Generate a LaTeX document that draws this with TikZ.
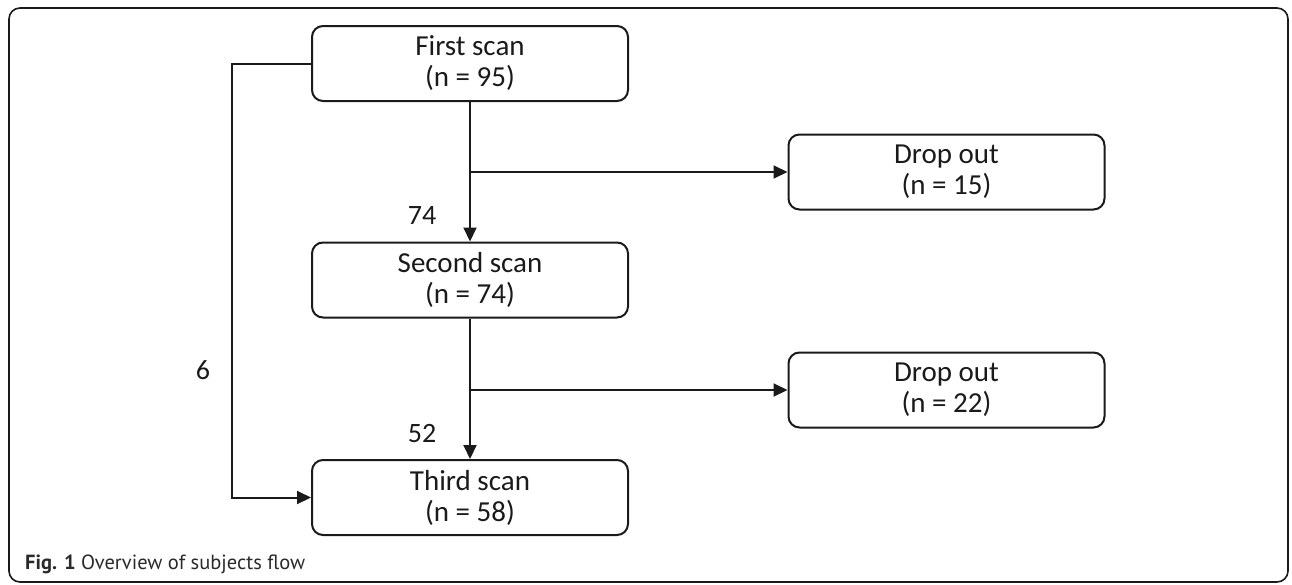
\documentclass[tikz,border=0pt]{standalone}
\usepackage{fontspec}
\setmainfont{Carlito}
\newfontfamily\capfont{PT Sans}
\usetikzlibrary{arrows.meta}
\definecolor{ink}{HTML}{1A1A1A}
\definecolor{captext}{HTML}{2A2A2A}
\begin{document}
\begin{tikzpicture}[x=1pt,y=-1pt,
  stage/.style={draw=ink, text=ink, line width=2pt, rounded corners=11pt, minimum width=316pt,
    minimum height=75pt, align=center, inner sep=0pt,
    font=\fontsize{29}{31}\selectfont},
  flow/.style={draw=ink, line width=2pt, -{Triangle[length=14pt,width=13pt]}},
  count/.style={text=ink, inner sep=0pt, font=\fontsize{28}{30}\selectfont}]
\useasboundingbox (0,0) rectangle (1292,584);
% outer frame
\draw[ink, line width=1.6pt, rounded corners=11pt] (9,8) rectangle (1288,582);
% scan stages
\node[stage] (first)  at (470,63.5)  {First scan\\(n = 95)};
\node[stage] (second) at (470,280)   {Second scan\\(n = 74)};
\node[stage] (third)  at (470,497.5) {Third scan\\(n = 58)};
% drop-outs
\node[stage] (drop1) at (946.5,172) {Drop out\\(n = 15)};
\node[stage] (drop2) at (946.5,390) {Drop out\\(n = 22)};
% main flow
\draw[flow] (first) -- (second);
\draw[flow] (second) -- (third);
\draw[flow] (first.south |- drop1.west) -- (drop1.west);
\draw[flow] (second.south |- drop2.west) -- (drop2.west);
% bypass from first to third scan
\coordinate (lft) at (232,0);
\draw[flow] (first.west) -- (lft |- first.west) -- (lft |- third.west) -- (third.west);
% counts
\node[count] (n74) at (422,216) {74};
\node[count] (n52) at (422,434) {52};
\node[count] (n6)  at (203,370) {6};
% caption
\node[anchor=base west, inner sep=0pt, text=captext, font=\capfont\fontsize{20.5}{24}\selectfont]
  (cap) at (25,569) {\textbf{Fig. 1} Overview of subjects flow};
\end{tikzpicture}
\end{document}
